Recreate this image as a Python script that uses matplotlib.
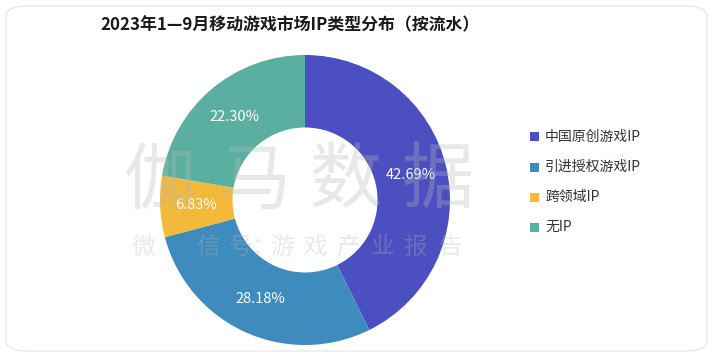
import matplotlib
matplotlib.use("Agg")
import matplotlib.pyplot as plt
from matplotlib.patches import FancyBboxPatch
import math

plt.rcParams['font.family'] = ['Noto Sans CJK SC', 'DejaVu Sans']

title = "2023年1—9月移动游戏市场IP类型分布（按流水）"
categories = ["中国原创游戏IP", "引进授权游戏IP", "跨领域IP", "无IP"]
values = [42.69, 28.18, 6.83, 22.30]
labels = ["42.69%", "28.18%", "6.83%", "22.30%"]
colors = ["#4B4FC0", "#3E8BBE", "#F2B93B", "#5BAFA0"]

W, H = 713, 357
fig = plt.figure(figsize=(W / 100, H / 100), dpi=100)
fig.patch.set_facecolor("white")

# rounded card border
card = FancyBboxPatch((6 / W, 6 / H), 1 - 12 / W, 1 - 12 / H,
                      boxstyle="round,pad=0,rounding_size=0.03",
                      transform=fig.transFigure, facecolor="white",
                      edgecolor="#ececec", linewidth=1.2, zorder=-10)
fig.patches.append(card)

fig.text(100 / W, 1 - 25 / H, title, fontsize=12.2, fontweight="bold",
         color="#1a1a1a", ha="left", va="center")

cx, cy, r = 305, 200, 145
ax = fig.add_axes([(cx - r) / W, (H - cy - r) / H, 2 * r / W, 2 * r / H])
ax.set_facecolor("none")
wedges, texts = ax.pie(values, colors=colors, startangle=90, counterclock=False,
                       radius=1.0, wedgeprops=dict(width=0.5, linewidth=0))
total = sum(values)
ang = 90.0
for v, lab in zip(values, labels):
    span = v / total * 360
    mid = math.radians(ang - span / 2)
    ax.text(0.75 * math.cos(mid), 0.75 * math.sin(mid), lab, ha="center", va="center",
            color="white", fontsize=10.5)
    ang -= span
ax.set_xlim(-1, 1)
ax.set_ylim(-1, 1)
ax.set_aspect("equal")
ax.axis("off")

# legend
leg_y = [137, 167, 197, 227]
for c, name, y in zip(colors, categories, leg_y):
    fig.patches.append(plt.Rectangle((530 / W, 1 - (y + 4.5) / H), 9 / W, 9 / H,
                                     transform=fig.transFigure, facecolor=c,
                                     edgecolor="none"))
    fig.text(545 / W, 1 - y / H, name, fontsize=10, color="#333333",
             ha="left", va="center")

# watermark
wm_color = "#b8b8b8"
for ch, x in zip("伽马数据", [160, 255, 345, 438]):
    fig.text(x / W, 1 - 182 / H, ch, fontsize=52, color=wm_color, alpha=0.32,
             fontweight="light", ha="center", va="center", zorder=10)
wm2 = "微信号：游戏产业报告"
for ch, x in zip(wm2, [143, 208, 240, 264, 282, 315, 348, 382, 415, 450]):
    fig.text(x / W, 1 - 247 / H, ch, fontsize=17, color=wm_color, alpha=0.3,
             fontweight="light", ha="center", va="center", zorder=10)

fig.savefig("out.png", dpi=100)
